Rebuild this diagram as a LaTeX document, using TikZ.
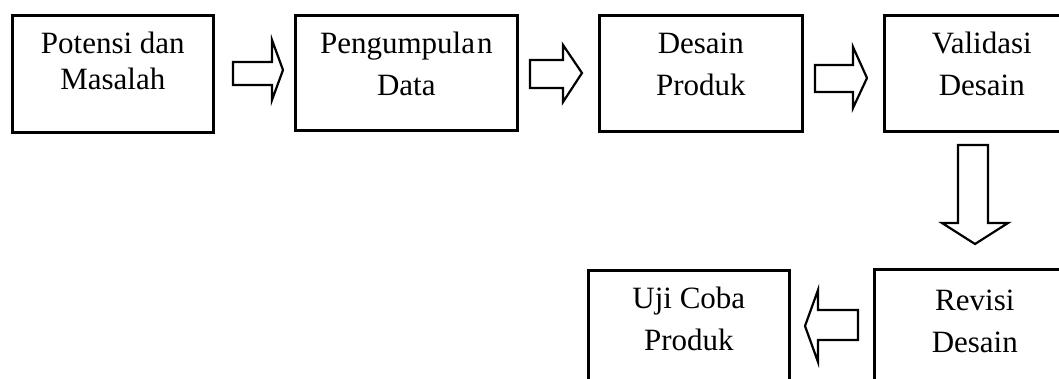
\documentclass[tikz,border=0pt]{standalone}
\usepackage{fontspec}
\setmainfont{Liberation Serif}
\begin{document}
\begin{tikzpicture}[x=1pt,y=-1pt,
  boxst/.style={draw=black, line width=2.6pt, rectangle, inner sep=0pt, anchor=north west},
  txt/.style={font=\fontsize{31}{42}\selectfont, align=center, inner sep=0pt, anchor=north},
  blk/.style={draw=black, line width=2.2pt, fill=white, line join=miter}]
\useasboundingbox (0,0) rectangle (1059,379);
\fill[white] (0,0) rectangle (1059,379);
\clip (0,0) rectangle (1059,379);
% boxes
\node[boxst, minimum width=201pt, minimum height=117pt] (b1) at (11,14) {};
\node[boxst, minimum width=222pt, minimum height=115pt] (b2) at (294,14) {};
\node[boxst, minimum width=203pt, minimum height=116pt] (b3) at (598,14) {};
\node[boxst, minimum width=195pt, minimum height=116pt] (b4) at (883,14) {};
\node[boxst, minimum width=201pt, minimum height=125pt] (b5) at (873,268) {};
\node[boxst, minimum width=201pt, minimum height=125pt] (b6) at (587,269) {};
% texts
\node[txt, font=\fontsize{31}{36}\selectfont] (t1) at ([yshift=-17pt]b1.north) {\rule{0pt}{22pt}Potensi dan\\Masalah};
\node[txt] (t2) at ([yshift=-17pt]b2.north) {\rule{0pt}{22pt}Pengumpula\kern2pt n\\Data};
\node[txt] (t3) at ([yshift=-17pt]b3.north) {\rule{0pt}{22pt}Desain\\Produk};
\node[txt] (t4) at ([yshift=-17pt]b4.north) {\rule{0pt}{22pt}Validasi\\Desain};
\node[txt] (t5) at ([yshift=-20pt]b5.north) {\rule{0pt}{22pt}Revisi\\Desain};
\node[txt] (t6) at ([yshift=-17pt]b6.north) {\rule{0pt}{22pt}Uji Coba\\Produk};
% block arrows
\draw[blk] (233,62) -- (272,62) -- (272,40) -- (283,70) -- (272,100) -- (272,85) -- (233,85) -- cycle;
\draw[blk] (530,60) -- (563,60) -- (563,45) -- (582,73) -- (563,102) -- (563,88) -- (530,88) -- cycle;
\draw[blk] (815,65) -- (853,65) -- (853,47) -- (867,78) -- (853,108) -- (853,92) -- (815,92) -- cycle;
\draw[blk] (958,145) -- (988,145) -- (988,223) -- (1008,223) -- (975,244) -- (942,223) -- (958,223) -- cycle;
\draw[blk] (858,310) -- (858,340) -- (818,340) -- (818,362) -- (805,326) -- (818,290) -- (818,310) -- cycle;
\end{tikzpicture}
\end{document}
